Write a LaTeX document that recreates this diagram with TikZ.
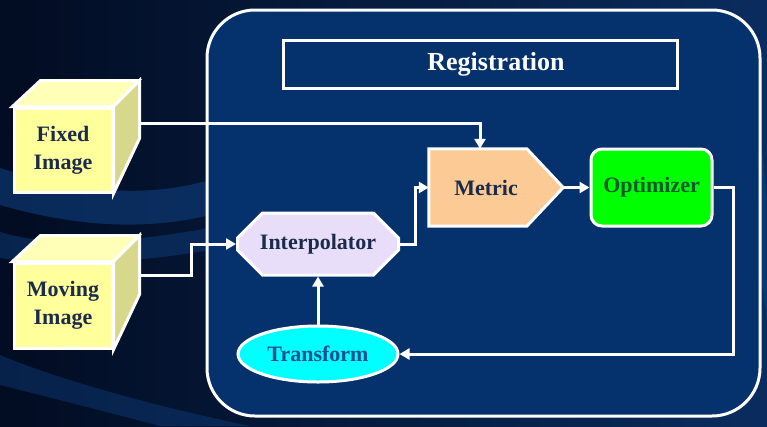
\documentclass[tikz,border=0pt]{standalone}
\usepackage{fontspec}
\setmainfont{Liberation Serif}
\usetikzlibrary{arrows.meta,shapes.geometric,shapes.misc,calc}
\definecolor{bgdark}{HTML}{020C22}
\definecolor{bgmid}{HTML}{0A2C5E}
\definecolor{bandblue}{HTML}{0F4386}
\definecolor{panelblue}{HTML}{05326C}
\definecolor{cubefront}{HTML}{FFFF9C}
\definecolor{cubetop}{HTML}{FFFFB8}
\definecolor{cubeside}{HTML}{D8D88C}
\definecolor{navytext}{HTML}{1B2B4C}
\definecolor{metricfill}{HTML}{FCCB95}
\definecolor{interpfill}{HTML}{E8DEFA}
\definecolor{optfill}{HTML}{00FF00}
\definecolor{opttext}{HTML}{0B5A2C}
\definecolor{transfill}{HTML}{00FFFF}
\definecolor{transtext}{HTML}{1C4F8C}
\tikzset{
  lbl/.style={font=\fontsize{22}{28}\selectfont\bfseries, inner sep=0pt},
  cubeface/.style={draw=white, line width=3pt, line join=miter},
  arr/.style={draw=white, line width=3pt, -{Triangle[length=10pt,width=11pt]}},
}
\begin{document}
\begin{tikzpicture}[x=1pt,y=-1pt]
\useasboundingbox (0,0) rectangle (767,426);
% background
\shade[left color=bgdark, right color=bgmid] (0,0) rectangle (767,426);
\fill[bandblue, opacity=0.55] (0,168) .. controls (70,190) and (140,200) .. (210,180) -- (210,215) .. controls (140,232) and (70,225) .. (0,205) -- cycle;
\fill[bandblue, opacity=0.45] (0,232) .. controls (60,250) and (140,240) .. (210,228) -- (210,250) .. controls (140,262) and (60,268) .. (0,258) -- cycle;
\fill[bandblue, opacity=0.4] (0,355) .. controls (60,380) and (150,405) .. (250,426) -- (160,426) .. controls (100,410) and (40,395) .. (0,385) -- cycle;
\fill[bandblue, opacity=0.5] (750,80) .. controls (758,120) and (764,160) .. (767,200) -- (767,320) .. controls (762,280) and (756,250) .. (750,230) -- cycle;
% panel
\draw[white, line width=3pt, fill=panelblue, rounded corners=48pt] (207,10) rectangle (760,416);
% title
\draw[white, line width=3pt] (283,40) rectangle (677,88);
\node[lbl, font=\fontsize{26}{30}\selectfont\bfseries, text=white] (title) at (496,64) {Registration};
% cubes
\foreach \nm/\cy/\h/\txt in {fixed/150/84/{Fixed\\Image}, moving/305.5/85/{Moving\\Image}} {
  \node[cubeface, fill=cubefront, minimum width=98pt, minimum height=\h pt, inner sep=0pt,
        lbl, text=navytext, align=center] (\nm) at (63,\cy) {\txt};
  \draw[cubeface, fill=cubetop] (\nm.north west) -- ++(28,-26) -- ++(98,0) -- (\nm.north east) -- cycle;
  \draw[cubeface, fill=cubeside] (\nm.north east) -- ++(26,-26) -- ++(0,\h-26) -- (\nm.south east) -- cycle;
}
% metric
\node[lbl, minimum width=114pt, minimum height=77pt] (metric) at (486,187.5) {};
\draw[white, line width=3pt, fill=metricfill, line join=miter]
  (metric.north west) -- ++(98,0) -- ($(metric.east)+(20,0)$) -- ($(metric.south west)+(98,0)$) -- (metric.south west) -- cycle;
\node[lbl, text=navytext] (metrictext) at (metric) {Metric};
% interpolator
\node[chamfered rectangle, chamfered rectangle xsep=15pt, chamfered rectangle ysep=15pt,
      draw=white, line width=3pt, fill=interpfill, minimum width=161pt, minimum height=62pt,
      lbl, text=navytext] (interp) at (318,244) {Interpolator};
% optimizer
\node[draw=white, line width=3pt, fill=optfill, rounded corners=11pt, minimum width=121pt,
      minimum height=77pt, lbl, text=opttext] (opt) at (651.5,187.5) {Optimizer};
% transform
\node[ellipse, draw=white, line width=3pt, fill=transfill, minimum width=160pt, minimum height=56pt,
      lbl, text=transtext] (trans) at (318,354) {Transform};
% connectors
\coordinate (fo) at ($(fixed.north east)+(26,17)$);
\coordinate (mo) at ($(moving.north east)+(26,14)$);
\draw[arr] (fo) -| ([xshift=-6pt]metric.north);
\draw[arr] (mo) -- ++(52,0) |- (interp.west);
\draw[arr] (interp.east) -- ++(15,0) |- (metric.west);
\draw[arr] ([xshift=20pt]metric.east) -- (opt.west);
\draw[arr] (opt.east) -- ++(20,0) |- (trans.east);
\draw[arr] (trans.north) -- (interp.south);
\end{tikzpicture}
\end{document}
